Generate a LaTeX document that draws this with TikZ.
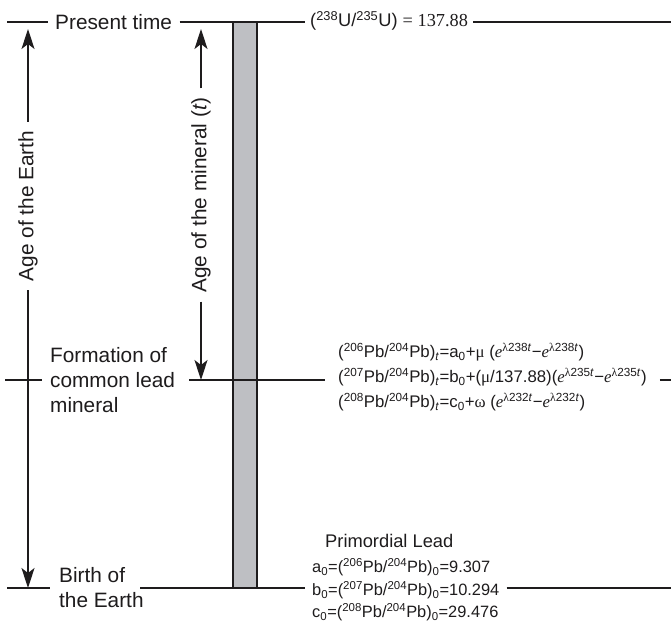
\documentclass[tikz,border=0pt]{standalone}
\usepackage{fontspec}
\setmainfont{Liberation Sans}
\newfontfamily\rmtimes{Liberation Serif}
\usetikzlibrary{arrows.meta}
\definecolor{barfill}{RGB}{190,191,195}
\definecolor{ink}{RGB}{30,28,29}
% isotope notation helpers
\newcommand\up[1]{\textsuperscript{#1}}
\newcommand\dn[1]{\textsubscript{#1}}
\newcommand\iso[2]{\up{#1}#2}
\newcommand\pbratio[2]{(\iso{#1}{Pb}/\iso{#2}{Pb})}
\newcommand\expo[1]{{\rmtimes\itshape e}\up{{\rmtimes λ}#1\textit{t}}}
\begin{document}
\begin{tikzpicture}[x=1pt,y=-1pt,
  every node/.style={text=ink, inner sep=0pt},
  hline/.style={draw=ink, line width=1.8pt},
  dimline/.style={draw=ink, line width=1.3pt, -{Stealth[length=20pt,width=13pt,inset=5pt]}},
  big/.style={font=\fontsize{20.8}{25}\selectfont, align=left},
  mid/.style={font=\fontsize{18.3}{22}\selectfont},
  eqn/.style={font=\fontsize{16.8}{25}\selectfont, align=left},
  small/.style={font=\fontsize{16.4}{22.5}\selectfont, align=left}]
\useasboundingbox (0,0) rectangle (671,627);
\fill[white] (0,0) rectangle (671,627);

% the mineral column
\draw[draw=ink, line width=1.8pt, fill=barfill] (233,22) rectangle (257,588);

% present time
\coordinate (p0) at (7,22);
\coordinate (p3) at (671,22);
\node[big, anchor=west, inner xsep=7.5pt] (present) at (47.5,22) {Present time};
\node[mid, anchor=base west, inner xsep=5pt] (uratio) at (305,26.5)
  {(\iso{238}{U}/\iso{235}{U}) {\rmtimes= 137.88}};
\draw[hline] (p0) -- (present.west |- p0);
\draw[hline] (present.east |- p0) -- (uratio.west |- p0);
\draw[hline] (uratio.east |- p0) -- (p3);

% formation of the common lead mineral
\coordinate (f0) at (5,380);
\coordinate (f1) at (189,380);
\coordinate (f3) at (671,380);
\node[big, anchor=west, inner xsep=8pt] (formation) at (42,380)
  {Formation of\\common lead\\mineral};
\node[eqn, anchor=west, inner xsep=13pt] (eqs) at (325,377) {%
  \pbratio{206}{204}\dn{\textit{t}}=a\dn{0}+{\rmtimes μ} (\expo{238}−\expo{238})\\
  \pbratio{207}{204}\dn{\textit{t}}=b\dn{0}+({\rmtimes μ}/137.88)(\expo{235}−\expo{235})\\
  \pbratio{208}{204}\dn{\textit{t}}=c\dn{0}+{\rmtimes ω} (\expo{232}−\expo{232})};
\draw[hline] (f0) -- (formation.west |- f0);
\draw[hline] (f1) -- (eqs.west |- f1);
\draw[hline] (eqs.east |- f1) -- (f3);

% birth of the Earth
\coordinate (b0) at (7,588);
\coordinate (b1) at (140,588);
\coordinate (b3) at (671,588);
\node[big, anchor=west, inner xsep=9pt] (birth) at (50,588) {Birth of\\the Earth};
\node[mid, anchor=west] (primlead) at (325,541) {Primordial Lead};
\node[small, anchor=west, inner xsep=7pt] (prim) at (305,590) {%
  a\dn{0}=\pbratio{206}{204}\dn{0}=9.307\\
  b\dn{0}=\pbratio{207}{204}\dn{0}=10.294\\
  c\dn{0}=\pbratio{208}{204}\dn{0}=29.476};
\draw[hline] (b0) -- (birth.west |- b0);
\draw[hline] (b1) -- (prim.west |- b1);
\draw[hline] (prim.east |- b1) -- (b3);

% age of the Earth
\coordinate (et) at (28,29);
\coordinate (eb) at (28,588);
\node[big, rotate=90, inner xsep=9pt] (ageearth) at (28,206) {Age of the Earth};
\draw[dimline] (ageearth.east) -- (et);
\draw[dimline] (ageearth.west) -- (eb);

% age of the mineral
\coordinate (mt) at (201,29);
\coordinate (mb) at (201,380);
\node[big, rotate=90, inner xsep=9pt] (agemineral) at (201,195) {Age of the mineral (\textit{t})};
\draw[dimline] (agemineral.east) -- (mt);
\draw[dimline] (agemineral.west) -- (mb);
\end{tikzpicture}
\end{document}
